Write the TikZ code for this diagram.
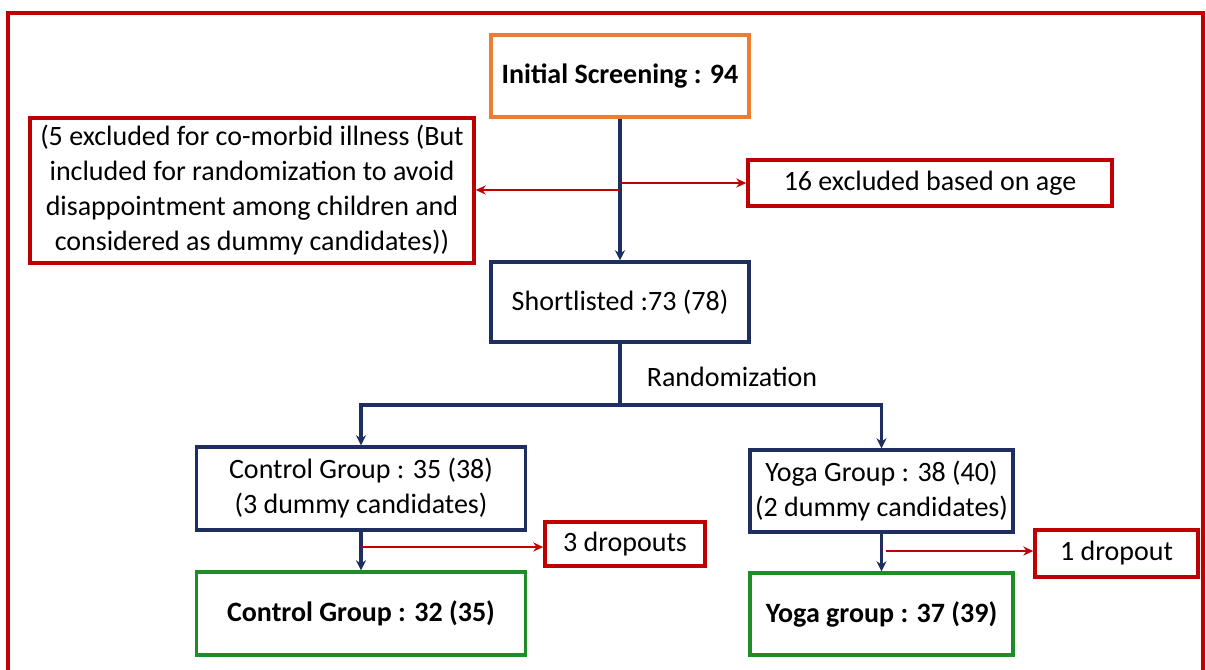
\documentclass[tikz,border=0pt]{standalone}
\usepackage{fontspec}
\setmainfont{Carlito}
\usetikzlibrary{arrows.meta}
\definecolor{cOrange}{RGB}{237,125,49}
\definecolor{cRed}{RGB}{192,0,0}
\definecolor{cNavy}{RGB}{31,46,96}
\definecolor{cGreen}{RGB}{30,140,40}
\tikzset{
  box/.style={draw, line width=3.4pt, fill=white, inner sep=2pt, align=center,
    font=\fontsize{28}{35}\selectfont},
  orangebox/.style={box, draw=cOrange},
  redbox/.style={box, draw=cRed},
  navybox/.style={box, draw=cNavy},
  greenbox/.style={box, draw=cGreen},
  navyarrow/.style={draw=cNavy, line width=3.2pt, -{Stealth[length=10pt,width=10pt]}},
  navyline/.style={draw=cNavy, line width=3.2pt},
  redarrow/.style={draw=cRed, line width=2.6pt, -{Stealth[length=10pt,width=9pt]}},
}
\begin{document}
\begin{tikzpicture}[x=1pt,y=-1pt]
\useasboundingbox (0,0) rectangle (1206,669);
\fill[white] (0,0) rectangle (1206,669);
\draw[cRed, line width=3.5pt] (8,700) -- (8,13) -- (1203,13) -- (1203,700);

\node[orangebox, minimum width=258pt, minimum height=82pt, font=\fontsize{28}{35}\selectfont\bfseries] (init) at (620,76) {Initial Screening : 94};
\node[redbox, minimum width=444pt, minimum height=145pt] (excl) at (252,190.5)
  {(5 excluded for co-morbid illness (But\\included for randomization to avoid\\disappointment among children and\\considered as dummy candidates))};
\node[redbox, minimum width=364pt, minimum height=46pt] (age) at (930,183) {16 excluded based on age};
\node[navybox, minimum width=258pt, minimum height=80pt] (short) at (620,302) {Shortlisted :73 (78)};
\node[font=\fontsize{28}{35}\selectfont] (rand) at (732,377) {Randomization};

\node[navybox, minimum width=329pt, minimum height=83pt] (ctrl) at (361,488.5) {Control Group : 35 (38)\\(3 dummy candidates)};
\node[navybox, minimum width=263pt, minimum height=82pt] (yoga) at (881.5,491) {Yoga Group : 38 (40)\\(2 dummy candidates)};
\node[greenbox, minimum width=329pt, minimum height=83pt, font=\fontsize{28}{35}\selectfont\bfseries] (ctrlf) at (361,613.5) {Control Group : 32 (35)};
\node[greenbox, minimum width=263pt, minimum height=82pt, font=\fontsize{28}{35}\selectfont\bfseries] (yogaf) at (881.5,614) {Yoga group : 37 (39)};
\node[redbox, minimum width=160pt, minimum height=44pt] (drop3) at (625,544) {3 dropouts};
\node[redbox, minimum width=163pt, minimum height=47pt] (drop1) at (1116.5,553.5) {1 dropout};

\coordinate (sl) at (620,190);
\coordinate (sr) at (620,183);
\coordinate (split) at (620,405);
\coordinate (cd) at (361,547);
\coordinate (yd) at (886,551);

\draw[navyarrow] (init.south) -- (short.north);
\draw[redarrow] (sl) -- (sl -| excl.east);
\draw[redarrow] (sr) -- (age.west);
\draw[navyline] (short.south) -- (split);
\draw[navyarrow] (split) -| (ctrl.north);
\draw[navyarrow] (split) -| (yoga.north);
\draw[navyarrow] (ctrl.south) -- (ctrlf.north);
\draw[navyarrow] (yoga.south) -- (yogaf.north);
\draw[redarrow] (cd) -- (cd -| drop3.west);
\draw[redarrow] (yd) -- (yd -| drop1.west);
\end{tikzpicture}
\end{document}
